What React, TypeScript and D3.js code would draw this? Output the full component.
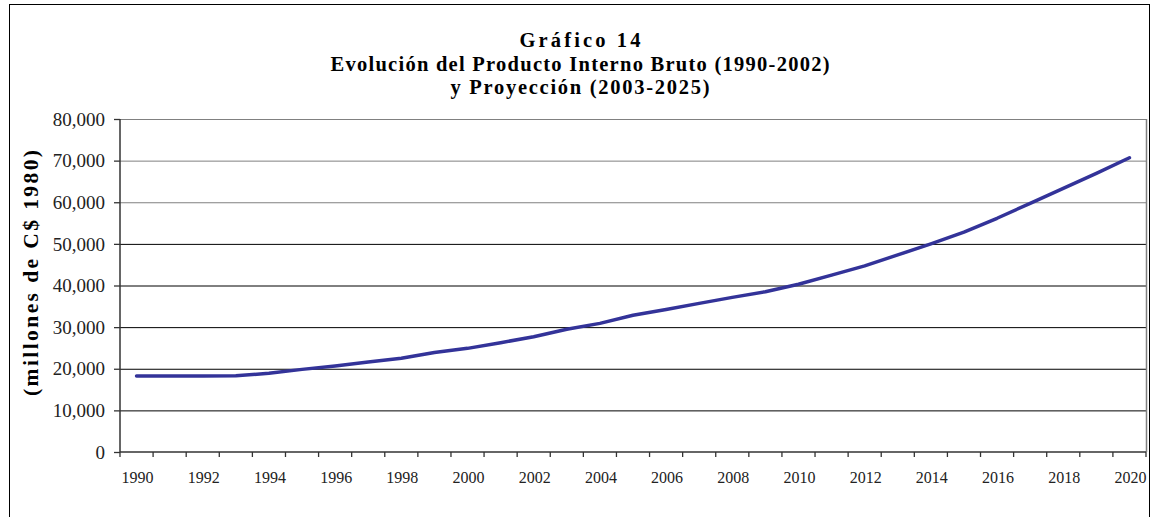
import React from "react";
import * as d3 from "d3";

const years = d3.range(1990, 2021);
const pib = [
  18250, 18250, 18250, 18300, 18900, 19850, 20650, 21600, 22500, 23900,
  24900, 26250, 27700, 29500, 30900, 32850, 34250, 35700, 37150, 38500,
  40300, 42500, 44700, 47350, 50000, 52800, 56150, 59750, 63350, 66950,
  70700,
];
const yTicks = [0, 10000, 20000, 30000, 40000, 50000, 60000, 70000, 80000];
const titleLines = [
  "Gráfico 14",
  "Evolución del Producto Interno Bruto (1990-2002)",
  "y Proyección  (2003-2025)",
];
const titleWidths = [121, 499, 259];
const yTitle = "(millones de  C$ 1980)";

const W = 1152;
const H = 517;
const plot = { left: 120, right: 1146, top: 119, bottom: 452 };

export default function App() {
  const x = d3
    .scaleBand<number>()
    .domain(years)
    .range([plot.left, plot.right]);
  const y = d3.scaleLinear().domain([0, 80000]).range([plot.bottom, plot.top]);
  const cx = (yr: number) => (x(yr) as number) + x.bandwidth() / 2;

  const line = d3
    .line<number>()
    .x((_, i) => cx(years[i]))
    .y((d) => y(d));

  const fmt = d3.format(",");
  const serif = "'Liberation Serif', 'Times New Roman', serif";

  return (
    <svg
      width={W}
      height={H}
      style={{ position: "absolute", left: 0, top: 0, background: "#fff" }}
    >
      <rect x={9.5} y={4.5} width={1140} height={H + 10} fill="#fff" stroke="#000" />

      {titleLines.map((t, i) => (
        <text
          key={i}
          x={580}
          y={47 + i * 23.5}
          textAnchor="middle"
          fontFamily={serif}
          fontWeight="bold"
          fontSize={20.5}
          textLength={titleWidths[i]}
          lengthAdjust="spacing"
        >
          {t}
        </text>
      ))}

      {yTicks.map((t) => (
        <g key={t}>
          {t > 0 && (
            <line
              x1={plot.left}
              x2={plot.right}
              y1={y(t) + 0.5}
              y2={y(t) + 0.5}
              stroke={t >= 60000 ? "#808080" : "#000"}
              strokeWidth={1}
            />
          )}
          <line x1={114} x2={plot.left} y1={y(t) + 0.5} y2={y(t) + 0.5} stroke="#333" strokeWidth={1.3} />
          <text
            x={105}
            y={y(t)}
            dy="0.35em"
            textAnchor="end"
            fontFamily={serif}
            fontSize={19}
            fill="#222"
          >
            {fmt(t)}
          </text>
        </g>
      ))}

      <line x1={plot.right + 0.5} x2={plot.right + 0.5} y1={plot.top} y2={plot.bottom} stroke="#808080" strokeWidth={1.5} />
      <line x1={plot.left} x2={plot.left} y1={plot.top} y2={plot.bottom} stroke="#333" strokeWidth={1.5} />
      <line x1={plot.left} x2={plot.right} y1={plot.bottom} y2={plot.bottom} stroke="#333" strokeWidth={1.5} />

      {years.map((yr) => (
        <line
          key={yr}
          x1={(x(yr) as number) + x.bandwidth()}
          x2={(x(yr) as number) + x.bandwidth()}
          y1={plot.bottom}
          y2={plot.bottom + 5}
          stroke="#333"
          strokeWidth={1.3}
        />
      ))}
      <line x1={plot.left} x2={plot.left} y1={plot.bottom} y2={plot.bottom + 5} stroke="#333" strokeWidth={1.3} />

      {years
        .filter((yr) => (yr - 1990) % 2 === 0)
        .map((yr) => (
          <text
            key={yr}
            x={cx(yr) + 1}
            y={483}
            textAnchor="middle"
            fontFamily={serif}
            fontSize={16}
            fill="#222"
          >
            {yr}
          </text>
        ))}

      <text
        transform={`translate(38, 273) rotate(-90)`}
        textAnchor="middle"
        fontFamily={serif}
        fontWeight="bold"
        fontSize={21.5}
        textLength={246}
        lengthAdjust="spacing"
      >
        {yTitle}
      </text>

      <path
        d={line(pib) || ""}
        fill="none"
        stroke="#333399"
        strokeWidth={3.5}
        strokeLinejoin="round"
        strokeLinecap="round"
      />
    </svg>
  );
}
